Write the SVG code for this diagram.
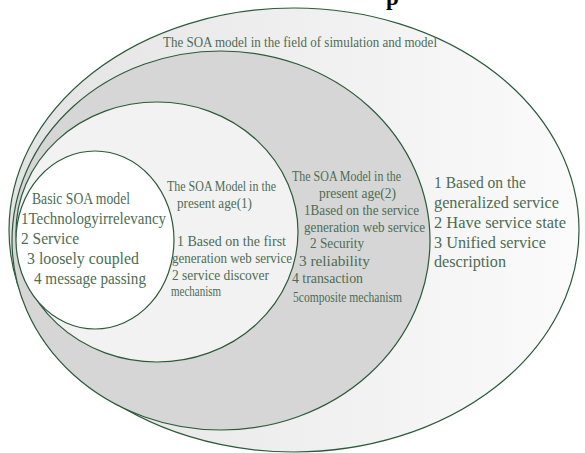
<svg xmlns="http://www.w3.org/2000/svg" width="585" height="453" viewBox="0 0 585 453">
<defs>
<linearGradient id="gOuter" x1="0" y1="0" x2="1" y2="0">
<stop offset="0" stop-color="#e3e3e3"/>
<stop offset="1" stop-color="#fbfbfb"/>
</linearGradient>
<style>
.ring{stroke:#2c5a3a;stroke-width:1.2}
.t{font-family:"Liberation Serif","DejaVu Serif",serif;fill:#4d6c54}
.s{font-size:14px}
.b{font-size:16.5px}
</style>
</defs>
<rect width="585" height="453" fill="#ffffff"/>
<text x="386" y="5" font-family="Liberation Serif, serif" font-weight="bold" font-size="23" fill="#000">p</text>
<g id="outer">
<ellipse class="ring" cx="294" cy="230" rx="285" ry="222" fill="url(#gOuter)"/>
<text class="t s" x="163" y="47" textLength="274" lengthAdjust="spacingAndGlyphs">The SOA model in the field of simulation and model</text>
<text class="t b" x="434" y="188" textLength="92" lengthAdjust="spacingAndGlyphs">1 Based on the</text>
<text class="t b" x="434" y="208" textLength="125" lengthAdjust="spacingAndGlyphs">generalized service</text>
<text class="t b" x="434" y="228" textLength="132" lengthAdjust="spacingAndGlyphs">2 Have service state</text>
<text class="t b" x="434" y="248" textLength="112" lengthAdjust="spacingAndGlyphs">3 Unified service</text>
<text class="t b" x="434" y="267" textLength="72" lengthAdjust="spacingAndGlyphs">description</text>
</g>
<g id="age2">
<ellipse class="ring" cx="221" cy="240.5" rx="209" ry="189.5" fill="#d6d6d6"/>
<text class="t s" x="292" y="181" textLength="109" lengthAdjust="spacingAndGlyphs">The SOA Model in the</text>
<text class="t s" x="319" y="198" textLength="77" lengthAdjust="spacingAndGlyphs">present age(2)</text>
<text class="t s" x="304" y="215" textLength="115" lengthAdjust="spacingAndGlyphs">1Based on the service</text>
<text class="t s" x="304" y="232" textLength="121" lengthAdjust="spacingAndGlyphs">generation web service</text>
<text class="t s" x="310" y="248" textLength="54" lengthAdjust="spacingAndGlyphs">2 Security</text>
<text class="t s" x="299" y="266" textLength="71" lengthAdjust="spacingAndGlyphs">3 reliability</text>
<text class="t s" x="292" y="283" textLength="71" lengthAdjust="spacingAndGlyphs">4 transaction</text>
<text class="t s" x="293" y="302" textLength="109" lengthAdjust="spacingAndGlyphs">5composite mechanism</text>
</g>
<g id="age1">
<ellipse class="ring" cx="157" cy="232" rx="141" ry="130" fill="#f2f2f2"/>
<text class="t s" x="167" y="191" textLength="109" lengthAdjust="spacingAndGlyphs">The SOA Model in the</text>
<text class="t s" x="177" y="208" textLength="75" lengthAdjust="spacingAndGlyphs">present age(1)</text>
<text class="t s" x="177" y="246" textLength="109" lengthAdjust="spacingAndGlyphs">1 Based on the first</text>
<text class="t s" x="172" y="263" textLength="120" lengthAdjust="spacingAndGlyphs">generation web service</text>
<text class="t s" x="172" y="280" textLength="97" lengthAdjust="spacingAndGlyphs">2 service discover</text>
<text class="t s" x="171" y="296" textLength="50" lengthAdjust="spacingAndGlyphs">mechanism</text>
</g>
<g id="basic">
<ellipse class="ring" cx="95" cy="240" rx="79" ry="89" fill="#ffffff"/>
<text class="t b" x="32" y="204" textLength="98" lengthAdjust="spacingAndGlyphs">Basic SOA model</text>
<text class="t b" x="21" y="224" textLength="145" lengthAdjust="spacingAndGlyphs">1Technologyirrelevancy</text>
<text class="t b" x="21" y="244" textLength="58" lengthAdjust="spacingAndGlyphs">2 Service</text>
<text class="t b" x="27" y="264" textLength="112" lengthAdjust="spacingAndGlyphs">3 loosely coupled</text>
<text class="t b" x="34" y="284" textLength="112" lengthAdjust="spacingAndGlyphs">4 message passing</text>
</g>
<g id="connectors"/>
</svg>
